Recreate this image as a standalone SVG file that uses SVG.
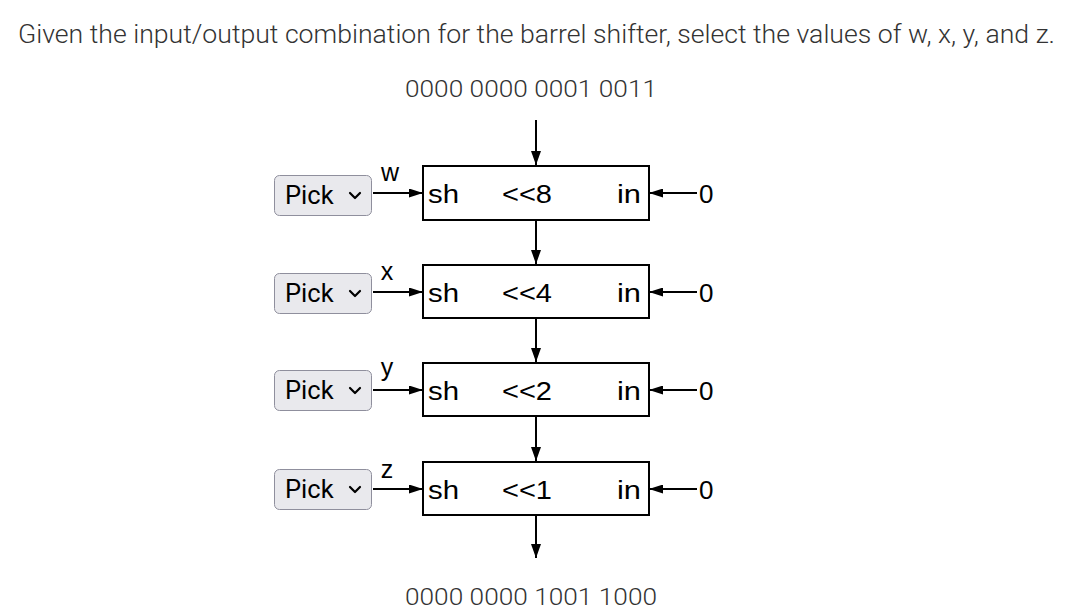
<svg xmlns="http://www.w3.org/2000/svg" width="1080" height="610" viewBox="0 0 1080 610">
<style>
.q{font-family:Roboto,"Liberation Sans",sans-serif;font-weight:300;font-size:26.7px;fill:#333}
.bin{font-family:Roboto,"Liberation Sans",sans-serif;font-weight:300;font-size:24.5px;fill:#333}
.d{font-family:"Liberation Sans",Arial,sans-serif;font-size:26px;fill:#000}
.lbl{font-family:"Liberation Sans",Arial,sans-serif;font-size:25px;fill:#000}
.box{fill:#fff;stroke:#000;stroke-width:2}
.ln{stroke:#000;stroke-width:2;fill:none}
.btn{fill:#e9e9ed;stroke:#8f8f9d;stroke-width:1}
.pick{font-family:Roboto,"Liberation Sans",sans-serif;font-size:25.5px;fill:#000}
.chev{fill:none;stroke:#000;stroke-width:2.2;stroke-linecap:round;stroke-linejoin:round}
</style>
<defs>
<marker id="ah" viewBox="0 0 14 9" refX="14" refY="4.5" markerWidth="14" markerHeight="9" orient="auto" markerUnits="userSpaceOnUse">
<path d="M0,0 L14,4.5 L0,9 z" fill="#000"/>
</marker>
<marker id="av" viewBox="0 0 14 10" refX="14" refY="5" markerWidth="14" markerHeight="10" orient="auto" markerUnits="userSpaceOnUse">
<path d="M0,0 L14,5 L0,10 z" fill="#000"/>
</marker>
</defs>
<rect width="1080" height="610" fill="#fff"/>
<text class="q" x="18" y="43" textLength="1037" lengthAdjust="spacingAndGlyphs">Given the input/output combination for the barrel shifter, select the values of w, x, y, and z.</text>
<text class="bin" x="405" y="97" textLength="252" lengthAdjust="spacingAndGlyphs">0000 0000 0001 0011</text>
<text class="bin" x="405" y="605" textLength="252" lengthAdjust="spacingAndGlyphs">0000 0000 1001 1000</text>

<g id="connectors">
<line class="ln" x1="536" y1="120" x2="536" y2="165" marker-end="url(#av)"/>
<line class="ln" x1="536" y1="220" x2="536" y2="264" marker-end="url(#av)"/>
<line class="ln" x1="536" y1="318" x2="536" y2="362" marker-end="url(#av)"/>
<line class="ln" x1="536" y1="416" x2="536" y2="461" marker-end="url(#av)"/>
<line class="ln" x1="536" y1="515" x2="536" y2="558" marker-end="url(#av)"/>
<line class="ln" x1="373" y1="193" x2="423" y2="193" marker-end="url(#ah)"/>
<line class="ln" x1="373" y1="292" x2="423" y2="292" marker-end="url(#ah)"/>
<line class="ln" x1="373" y1="390" x2="423" y2="390" marker-end="url(#ah)"/>
<line class="ln" x1="373" y1="489" x2="423" y2="489" marker-end="url(#ah)"/>
<line class="ln" x1="697" y1="193" x2="649" y2="193" marker-end="url(#ah)"/>
<line class="ln" x1="697" y1="292" x2="649" y2="292" marker-end="url(#ah)"/>
<line class="ln" x1="697" y1="390" x2="649" y2="390" marker-end="url(#ah)"/>
<line class="ln" x1="697" y1="489" x2="649" y2="489" marker-end="url(#ah)"/>
<text class="lbl" x="390" y="181" text-anchor="middle">w</text>
<text class="lbl" x="387" y="280" text-anchor="middle">x</text>
<text class="lbl" x="387" y="376" text-anchor="middle">y</text>
<text class="lbl" x="387" y="478" text-anchor="middle">z</text>
<text class="d" x="699" y="203">0</text>
<text class="d" x="699" y="302">0</text>
<text class="d" x="699" y="400">0</text>
<text class="d" x="699" y="499">0</text>
</g>

<g id="shift8">
<rect class="box" x="423" y="166" width="226" height="54"/>
<text class="d" x="428" y="203" textLength="31" lengthAdjust="spacingAndGlyphs">sh</text>
<text class="d" x="502" y="203" textLength="50" lengthAdjust="spacingAndGlyphs">&lt;&lt;8</text>
<text class="d" x="617" y="203" textLength="24" lengthAdjust="spacingAndGlyphs">in</text>
</g>
<g id="shift4">
<rect class="box" x="423" y="265" width="226" height="53"/>
<text class="d" x="428" y="302" textLength="31" lengthAdjust="spacingAndGlyphs">sh</text>
<text class="d" x="502" y="302" textLength="50" lengthAdjust="spacingAndGlyphs">&lt;&lt;4</text>
<text class="d" x="617" y="302" textLength="24" lengthAdjust="spacingAndGlyphs">in</text>
</g>
<g id="shift2">
<rect class="box" x="423" y="363" width="226" height="53"/>
<text class="d" x="428" y="400" textLength="31" lengthAdjust="spacingAndGlyphs">sh</text>
<text class="d" x="502" y="400" textLength="50" lengthAdjust="spacingAndGlyphs">&lt;&lt;2</text>
<text class="d" x="617" y="400" textLength="24" lengthAdjust="spacingAndGlyphs">in</text>
</g>
<g id="shift1">
<rect class="box" x="423" y="462" width="226" height="53"/>
<text class="d" x="428" y="499" textLength="31" lengthAdjust="spacingAndGlyphs">sh</text>
<text class="d" x="502" y="499" textLength="50" lengthAdjust="spacingAndGlyphs">&lt;&lt;1</text>
<text class="d" x="617" y="499" textLength="24" lengthAdjust="spacingAndGlyphs">in</text>
</g>

<g id="pick-w">
<rect class="btn" x="274.5" y="175.5" width="97" height="40" rx="5"/>
<text class="pick" x="285" y="204">Pick</text>
<path class="chev" d="M350,193 L355,198 L360,193"/>
</g>
<g id="pick-x">
<rect class="btn" x="274.5" y="273.5" width="97" height="40" rx="5"/>
<text class="pick" x="285" y="302">Pick</text>
<path class="chev" d="M350,291 L355,296 L360,291"/>
</g>
<g id="pick-y">
<rect class="btn" x="274.5" y="370.5" width="97" height="40" rx="5"/>
<text class="pick" x="285" y="399">Pick</text>
<path class="chev" d="M350,388 L355,393 L360,388"/>
</g>
<g id="pick-z">
<rect class="btn" x="274.5" y="469.5" width="97" height="40" rx="5"/>
<text class="pick" x="285" y="498">Pick</text>
<path class="chev" d="M350,487 L355,492 L360,487"/>
</g>
</svg>
